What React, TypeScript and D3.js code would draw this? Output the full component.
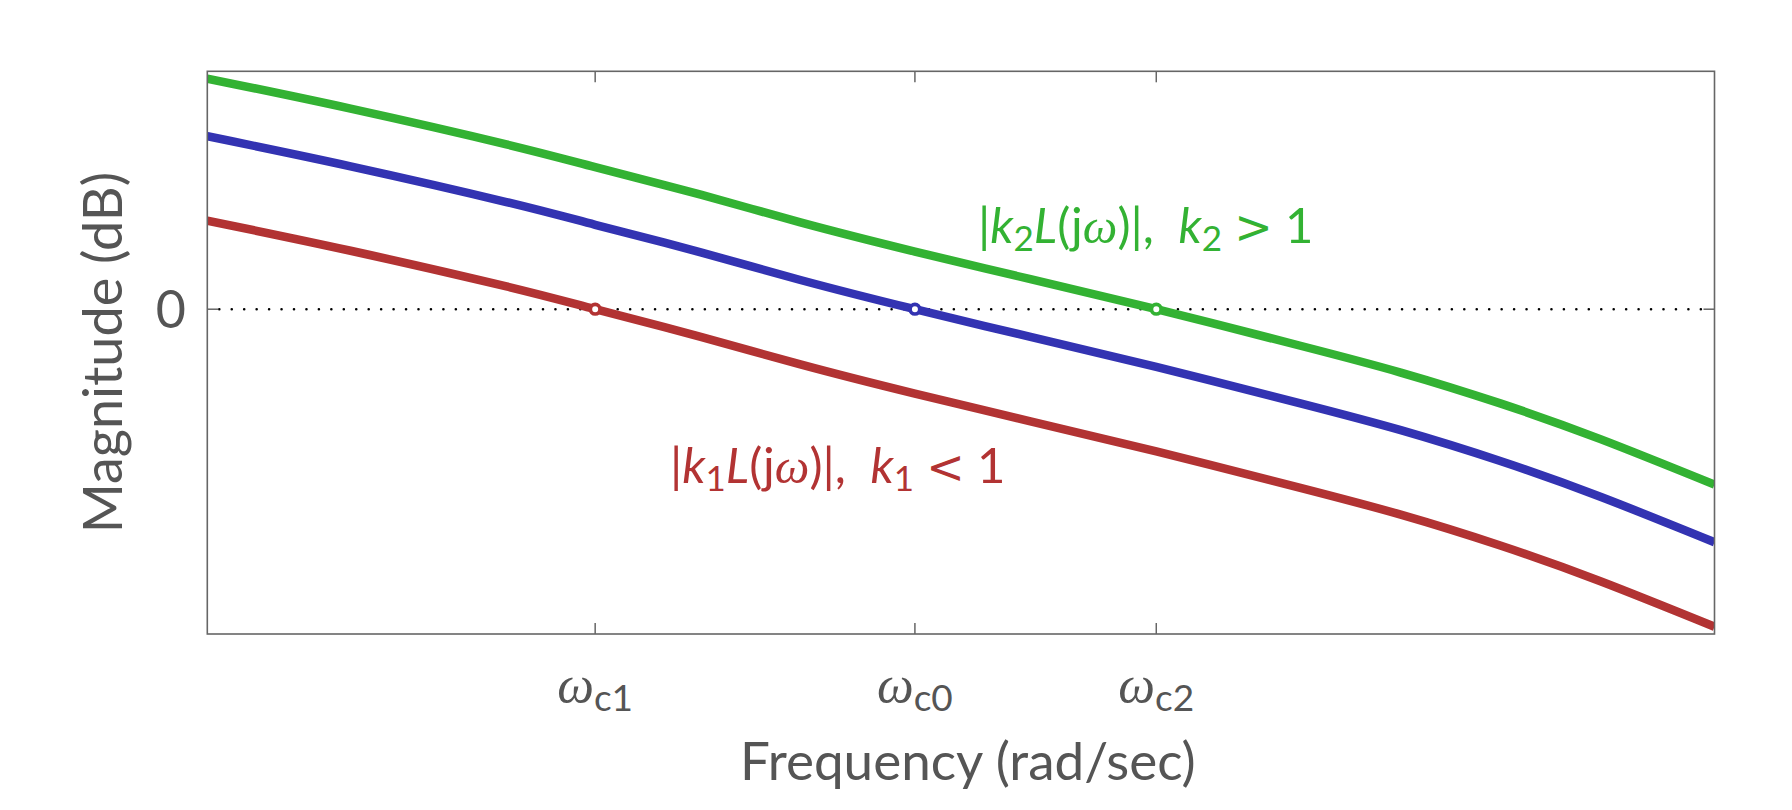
import React from "react";
import * as d3 from "d3";

// angular frequency samples (rad/sec, log axis)
const freqs = [0.01, 0.024, 0.0622, 0.107, 0.204, 0.375, 0.755, 1.53, 3.3, 7.96, 14.7, 27.0, 49.8, 100];
// |L(jω)| in dB (nominal gain, blue)
const magNominal = [21.3, 17.6, 13.2, 10.4, 7.0, 3.6, 0.0, -3.4, -7.1, -11.6, -14.9, -18.7, -23.1, -28.7];
// |k1 L(jω)| in dB, k1 < 1 (red)
const magLow = [10.9, 7.2, 2.8, 0.0, -3.4, -6.8, -10.4, -13.8, -17.5, -22.0, -25.3, -29.1, -33.5, -39.1];
// |k2 L(jω)| in dB, k2 > 1 (green)
const magHigh = [28.4, 24.7, 20.3, 17.5, 14.1, 10.7, 7.1, 3.7, 0.0, -4.5, -7.8, -11.6, -16.0, -21.6];

// crossover frequencies and their tick labels
const crossFreqs = [0.107, 0.755, 3.3];
const crossSubs = ["c1", "c0", "c2"];
const crossColors = ["#b23333", "#3333b2", "#33b233"];

const yTicks = [0];

const W = 1792;
const H = 810;
const L = 207.3, R = 1714.5, T = 71.3, B = 634;

const FONT = "Lato, 'Open Sans', sans-serif";
const GREEK = "'Liberation Serif', 'DejaVu Serif', serif";
const REL = "'DejaVu Sans', sans-serif";
const GRAY = "#555555";

export default function App() {
  const x = d3.scaleLog().domain([0.01, 100]).range([L, R]);
  const y = d3.scaleLinear().domain([-40, 29.3]).range([B, T]);
  const line = d3
    .line<number>()
    .x((_, i) => x(freqs[i]))
    .y((d) => y(d))
    .curve(d3.curveNatural);

  const series = [
    { data: magHigh, color: "#33b233" },
    { data: magNominal, color: "#3333b2" },
    { data: magLow, color: "#b23333" },
  ];

  const sub = (t: string) => (
    <tspan fontSize={37} dy={9}>
      {t}
    </tspan>
  );

  return (
    <svg
      width={W}
      height={H}
      style={{ position: "absolute", left: 0, top: 0, background: "#fff" }}
      fontFamily={FONT}
    >
      <defs>
        <clipPath id="plotclip">
          <rect x={L} y={T} width={R - L} height={B - T} />
        </clipPath>
      </defs>
      <rect x={0} y={0} width={W} height={H} fill="#fff" />

      {/* zero dB dotted line */}
      {yTicks.map((t) => (
        <line
          key={"z" + t}
          x1={L + 12}
          x2={R - 4}
          y1={y(t)}
          y2={y(t)}
          stroke="#000"
          strokeWidth={2.6}
          strokeLinecap="round"
          strokeDasharray="0 12.45"
        />
      ))}

      {/* curves */}
      <g clipPath="url(#plotclip)">
        {series.map((s, i) => (
          <path key={i} d={line(s.data) || ""} fill="none" stroke={s.color} strokeWidth={8.5} />
        ))}
      </g>

      {/* crossover markers */}
      {crossFreqs.map((f, i) => (
        <circle
          key={"c" + i}
          cx={x(f)}
          cy={y(0)}
          r={4.8}
          fill="#fff"
          stroke={crossColors[i]}
          strokeWidth={3.6}
        />
      ))}

      {/* frame */}
      <rect x={L} y={T} width={R - L} height={B - T} fill="none" stroke="#666" strokeWidth={1.6} />

      {/* y ticks */}
      {yTicks.map((t) => (
        <g key={"yt" + t}>
          <line x1={L} x2={L + 11} y1={y(t)} y2={y(t)} stroke="#666" strokeWidth={1.5} />
          <line x1={R - 11} x2={R} y1={y(t)} y2={y(t)} stroke="#666" strokeWidth={1.5} />
          <text x={186} y={y(t)} dy="0.36em" textAnchor="end" fontSize={52} fill={GRAY}>
            {t}
          </text>
        </g>
      ))}

      {/* x ticks */}
      {crossFreqs.map((f, i) => (
        <g key={"xt" + i}>
          <line x1={x(f)} x2={x(f)} y1={B} y2={B - 11} stroke="#666" strokeWidth={1.5} />
          <line x1={x(f)} x2={x(f)} y1={T} y2={T + 11} stroke="#666" strokeWidth={1.5} />
          <text x={x(f)} y={702} textAnchor="middle" fontSize={52} fill={GRAY}>
            <tspan fontFamily={GREEK} fontStyle="italic">ω</tspan>
            {sub(crossSubs[i])}
          </text>
        </g>
      ))}

      {/* axis labels */}
      <text x={(L + R) / 2 + 7} y={780} textAnchor="middle" fontSize={53} fill={GRAY}>
        Frequency (rad/sec)
      </text>
      <text
        transform={`translate(122,${(T + B) / 2}) rotate(-90)`}
        textAnchor="middle"
        fontSize={54}
        fill={GRAY}
      >
        Magnitude (dB)
      </text>

      {/* curve labels */}
      <text x={978} y={243} fontSize={49} fill="#33b233">
        |<tspan fontStyle="italic">k</tspan>
        <tspan fontSize={35} dy={8}>2</tspan>
        <tspan dy={-8} fontStyle="italic">L</tspan>(j
        <tspan fontFamily={GREEK} fontStyle="italic">ω</tspan>)|,{"\u2002"}
        <tspan fontStyle="italic">k</tspan>
        <tspan fontSize={35} dy={8}>2</tspan>
        <tspan dy={-8}>{"\u2005"}</tspan>
        <tspan fontFamily={REL} fontSize={46}>&gt;</tspan>
        <tspan>{"\u2005"}1</tspan>
      </text>
      <text x={670} y={483} fontSize={49} fill="#b23333">
        |<tspan fontStyle="italic">k</tspan>
        <tspan fontSize={35} dy={8}>1</tspan>
        <tspan dy={-8} fontStyle="italic">L</tspan>(j
        <tspan fontFamily={GREEK} fontStyle="italic">ω</tspan>)|,{"\u2002"}
        <tspan fontStyle="italic">k</tspan>
        <tspan fontSize={35} dy={8}>1</tspan>
        <tspan dy={-8}>{"\u2005"}</tspan>
        <tspan fontFamily={REL} fontSize={46}>&lt;</tspan>
        <tspan>{"\u2005"}1</tspan>
      </text>
    </svg>
  );
}
